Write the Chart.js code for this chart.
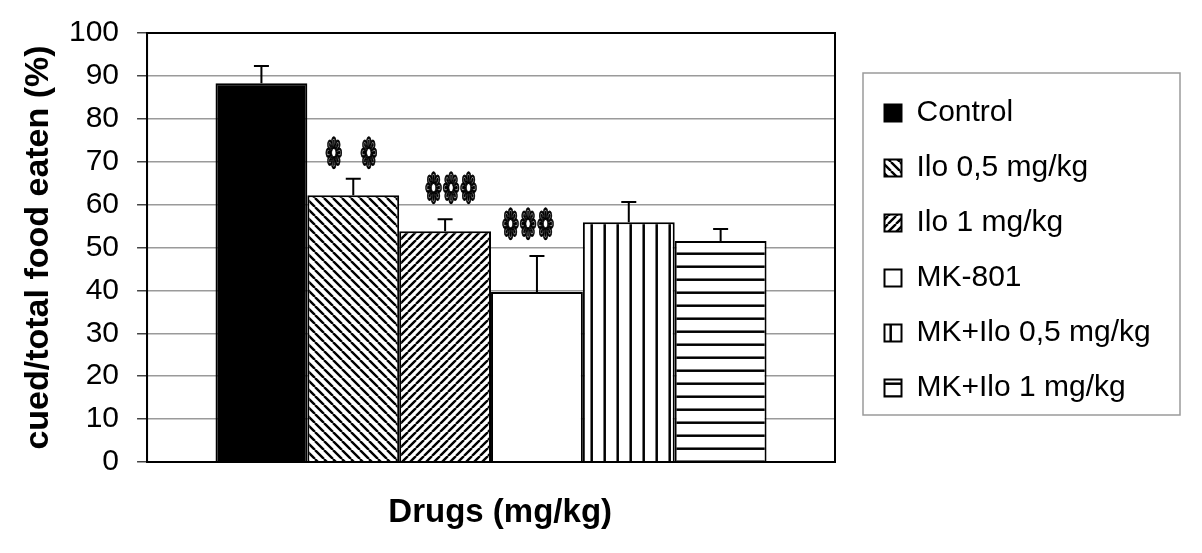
<!DOCTYPE html>
<html>
<head>
<meta charset="utf-8">
<script src="https://cdn.jsdelivr.net/npm/chart.js@4.4.1/dist/chart.umd.min.js"></script>
<style>
  body { margin: 0; background: #fff; }
  #wrap { width: 1202px; height: 553px; position: relative; }
</style>
</head>
<body>
<div id="wrap"><canvas id="foodChart"></canvas></div>
<script>
// groups and values
const groups = ['Control', 'Ilo 0,5 mg/kg', 'Ilo 1 mg/kg', 'MK-801', 'MK+Ilo 0,5 mg/kg', 'MK+Ilo 1 mg/kg'];
const meanEaten = [88.3, 62.2, 53.8, 39.6, 55.9, 51.5];
const semEaten = [4.0, 3.8, 2.8, 8.4, 4.7, 2.8];
const yTicks = [0, 10, 20, 30, 40, 50, 60, 70, 80, 90, 100];
// significance marks above bars (count of symbols, height in % units)
const sigCount = [0, 2, 3, 3, 0, 0];
const sigLevel = [0, 71.1, 62.9, 54.5, 0, 0];

function makePattern(kind, size, lw) {
    const c = document.createElement('canvas');
    c.width = size;
    c.height = size;
    const g = c.getContext('2d');
    g.fillStyle = '#fff';
    g.fillRect(0, 0, size, size);
    g.strokeStyle = '#000';
    g.lineWidth = lw;
    g.beginPath();
    for (let k = -1; k <= 1; k++) {
        if (kind === 'down') {
            g.moveTo(k * size, 0);
            g.lineTo(k * size + size, size);
        } else if (kind === 'up') {
            g.moveTo(k * size, size);
            g.lineTo(k * size + size, 0);
        }
    }
    if (kind === 'vert') {
        g.moveTo(size / 2, 0);
        g.lineTo(size / 2, size);
    } else if (kind === 'horiz') {
        g.moveTo(0, size / 2);
        g.lineTo(size, size / 2);
    }
    g.stroke();
    return g.createPattern(c, 'repeat');
}

const fills = [
    '#000',
    makePattern('down', 9, 2.4),
    makePattern('up', 8, 2.4),
    '#fff',
    makePattern('vert', 13.4, 2.5),
    makePattern('horiz', 13.4, 2.5)
];

const datasets = groups.map((name, i) => ({
    label: name,
    data: [meanEaten[i]],
    backgroundColor: fills[i],
    borderColor: '#000',
    borderWidth: 2
}));

const frameAndErrors = {
    id: 'frameAndErrors',
    afterInit(chart) {
        const lg = chart.legend;
        const fit = lg.fit.bind(lg);
        lg.fit = function () {
            fit();
            this.width = 367;
        };
    },
    afterLayout(chart) {
        chart.legend.left += 24.5;
        chart.legend.top += 3;
        chart.legend.bottom += 3;
    },
    afterDatasetsDraw(chart) {
        const ctx = chart.ctx;
        const y = chart.scales.y;
        const area = chart.chartArea;
        ctx.save();
        ctx.strokeStyle = '#000';
        ctx.lineWidth = 2;
        chart.data.datasets.forEach((ds, i) => {
            const bar = chart.getDatasetMeta(i).data[0];
            const top = y.getPixelForValue(meanEaten[i] + semEaten[i]);
            ctx.beginPath();
            ctx.moveTo(bar.x, bar.y);
            ctx.lineTo(bar.x, top);
            ctx.moveTo(bar.x - 7.5, top);
            ctx.lineTo(bar.x + 7.5, top);
            ctx.stroke();
        });
        ctx.strokeRect(area.left, area.top, area.right - area.left, area.bottom - area.top);

        // significance symbols
        const shift = [0, -2, 6, -9, 0, 0];
        ctx.fillStyle = '#000';
        ctx.strokeStyle = '#000';
        ctx.lineWidth = 1.1;
        ctx.font = '42px "DejaVu Sans"';
        ctx.textAlign = 'center';
        ctx.textBaseline = 'middle';
        chart.data.datasets.forEach((ds, i) => {
            const n = sigCount[i];
            if (!n) return;
            const bar = chart.getDatasetMeta(i).data[0];
            const gap = n === 2 ? 35 : 17.5;
            const cy = y.getPixelForValue(sigLevel[i]);
            for (let k = 0; k < n; k++) {
                const cx = bar.x + shift[i] + (k - (n - 1) / 2) * gap;
                ctx.save();
                ctx.translate(cx, cy);
                ctx.scale(0.5, 1);
                ctx.fillText('\u2741', 0, 0);
                ctx.strokeText('\u2741', 0, 0);
                ctx.restore();
            }
        });
        ctx.restore();
    },
    afterDraw(chart) {
        const lg = chart.legend;
        const ctx = chart.ctx;
        ctx.save();
        ctx.strokeStyle = '#9a9a9a';
        ctx.lineWidth = 1.5;
        const x0 = lg.left + 3.5, y0 = lg.top + 37;
        ctx.strokeRect(x0, y0, lg.right - 22 - x0, lg.bottom - 50 - y0);
        ctx.restore();
    }
};

Chart.defaults.color = '#000';
Chart.defaults.font.family = '"Liberation Sans", Arial, sans-serif';

new Chart(document.getElementById('foodChart'), {
    type: 'bar',
    data: { labels: [''], datasets: datasets },
    options: {
        responsive: true,
        maintainAspectRatio: false,
        animation: false,
        layout: { padding: { top: 33, left: 4, right: 0, bottom: 0 } },
        datasets: { bar: { categoryPercentage: 0.801, barPercentage: 1 } },
        plugins: {
            tooltip: { enabled: false },
            legend: {
                position: 'right',
                fullSize: false,
                labels: {
                    font: { size: 30 },
                    boxWidth: 17,
                    boxHeight: 17,
                    padding: 25,
                    color: '#000'
                }
            }
        },
        scales: {
            x: {
                grid: { display: false, drawTicks: false },
                border: { display: false },
                ticks: { display: false },
                title: {
                    display: true,
                    text: '  Drugs (mg/kg)',
                    font: { size: 33, weight: 'bold' },
                    padding: { top: 31.2, bottom: 20.2 }
                }
            },
            y: {
                min: 0,
                max: 100,
                afterBuildTicks(scale) {
                    scale.ticks = yTicks.map(v => ({ value: v }));
                },
                grid: { color: '#9a9a9a', lineWidth: 1.5, tickLength: 10, tickColor: '#444' },
                border: { color: '#000', width: 2 },
                ticks: { font: { size: 30, lineHeight: 1 }, padding: 18 },
                title: {
                    display: true,
                    text: 'cued/total food eaten (%)',
                    font: { size: 34, weight: 'bold', lineHeight: 1 },
                    padding: { top: 17.5, bottom: -4.5 }
                }
            }
        }
    },
    plugins: [frameAndErrors]
});
</script>
</body>
</html>
